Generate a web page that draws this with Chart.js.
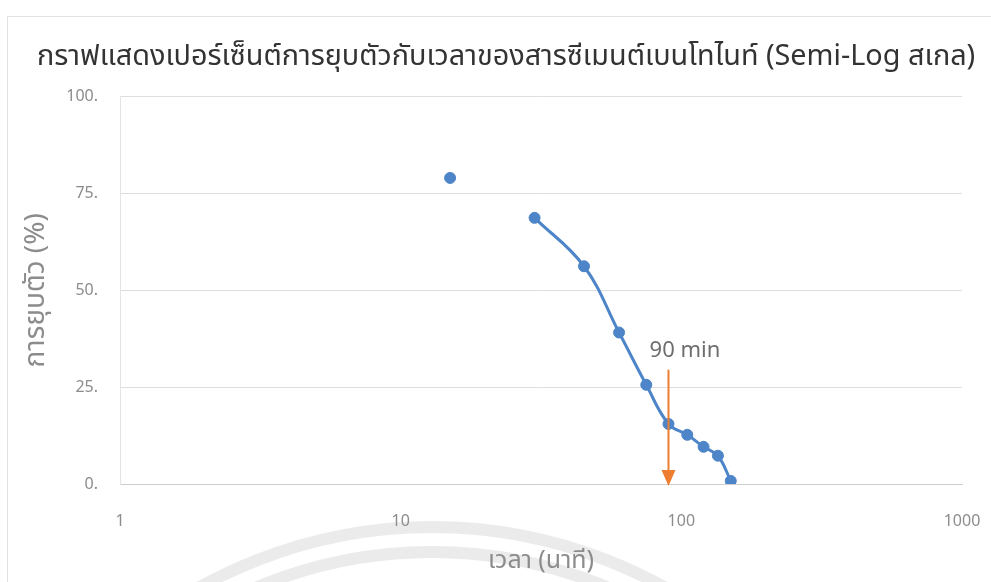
<!DOCTYPE html>
<html>
<head>
<meta charset="utf-8">
<script src="https://cdn.jsdelivr.net/npm/chart.js@4.4.1/dist/chart.umd.min.js"></script>
<style>
  html, body { margin: 0; padding: 0; background: #fff; }
  #chart { display: block; }
</style>
</head>
<body>
<canvas id="chart" width="991" height="582"></canvas>
<script>
// ข้อมูลจากกราฟ
const timeMin = [30, 45, 60, 75, 90, 105, 120, 135, 150];
const settlePct = [68.7, 56.2, 39.1, 25.6, 15.5, 12.7, 9.6, 7.3, 0.8];
const firstTime = [15];
const firstPct = [79];
const xTicks = [1, 10, 100, 1000];
const yTicks = [0, 25, 50, 75, 100];
const arrowTime = 90;
const arrowFrom = 29.5;
const arrowLabel = '90 min';
const labelTime = 103;
const labelPct = 34;

const thaiFont = '"Noto Sans Thai", "Leelawadee UI", "Noto Sans", "DejaVu Sans", sans-serif';
const tickFont = '"Noto Sans", "DejaVu Sans", sans-serif';
const blue = '#4d85c8';
const orange = '#ed7d31';

// พื้นหลัง, กรอบ และลายน้ำ
const backdrop = {
    id: 'backdrop',
    beforeDraw(chart) {
        const ctx = chart.ctx;
        ctx.save();
        ctx.fillStyle = '#fff';
        ctx.fillRect(0, 0, chart.width, chart.height);
        ctx.strokeStyle = '#e2e2e2';
        ctx.lineWidth = 1;
        ctx.beginPath();
        ctx.moveTo(7.5, chart.height);
        ctx.lineTo(7.5, 16.5);
        ctx.lineTo(chart.width, 16.5);
        ctx.stroke();
        ctx.strokeStyle = 'rgba(215,215,215,0.5)';
        ctx.lineWidth = 12;
        [478, 453].forEach(function (r) {
            ctx.beginPath();
            ctx.arc(432, 1005, r, 0, Math.PI * 2);
            ctx.stroke();
        });
        ctx.restore();
    }
};

// ลูกศร 90 นาที
const arrowPlugin = {
    id: 'arrow90',
    afterDatasetsDraw(chart) {
        const x = chart.scales.x, y = chart.scales.y;
        const ctx = chart.ctx;
        const px = x.getPixelForValue(arrowTime);
        const top = y.getPixelForValue(arrowFrom);
        const bottom = y.getPixelForValue(0) + 2;
        ctx.save();
        ctx.strokeStyle = orange;
        ctx.fillStyle = orange;
        ctx.lineWidth = 2;
        ctx.beginPath();
        ctx.moveTo(px, top);
        ctx.lineTo(px, bottom - 14);
        ctx.stroke();
        ctx.beginPath();
        ctx.moveTo(px - 7, bottom - 16);
        ctx.lineTo(px + 7, bottom - 16);
        ctx.lineTo(px, bottom);
        ctx.closePath();
        ctx.fill();
        ctx.fillStyle = '#6e6e6e';
        ctx.font = '22px ' + thaiFont;
        ctx.textAlign = 'center';
        ctx.textBaseline = 'middle';
        ctx.fillText(arrowLabel, x.getPixelForValue(labelTime), y.getPixelForValue(labelPct));
        ctx.restore();
    }
};

new Chart(document.getElementById('chart'), {
    type: 'scatter',
    data: {
        datasets: [{
            data: timeMin.map((t, i) => ({ x: t, y: settlePct[i] })),
            showLine: true,
            borderColor: blue,
            backgroundColor: blue,
            borderWidth: 3,
            tension: 0.4,
            pointRadius: 5.5,
            pointBorderWidth: 1,
            pointHoverRadius: 5.5
        }, {
            data: firstTime.map((t, i) => ({ x: t, y: firstPct[i] })),
            showLine: false,
            borderColor: blue,
            backgroundColor: blue,
            pointRadius: 5.5,
            pointBorderWidth: 1
        }]
    },
    options: {
        responsive: false,
        animation: false,
        layout: { padding: { left: 37, right: 10, top: 0, bottom: 0 } },
        plugins: {
            legend: { display: false },
            tooltip: { enabled: false },
            title: {
                display: true,
                align: 'start',
                text: 'กราฟแสดงเปอร์เซ็นต์การยุบตัวกับเวลาของสารซีเมนต์เบนโทไนท์ (Semi-Log สเกล)',
                color: '#333333',
                font: { family: thaiFont, size: 28.8, weight: 'normal', lineHeight: 1.2 },
                padding: { top: 42, bottom: 20 }
            }
        },
        scales: {
            x: {
                type: 'logarithmic',
                min: 1,
                max: 1000,
                afterBuildTicks: function (scale) {
                    scale.ticks = xTicks.map(v => ({ value: v }));
                },
                afterFit: function (scale) {
                    scale.height = 98;
                    scale.paddingRight = 29;
                },
                grid: { color: 'rgba(0,0,0,0)', drawTicks: false },
                border: { display: true, color: '#cdcdcd', width: 1 },
                ticks: {
                    color: '#8c8c8c',
                    padding: 28,
                    font: { family: tickFont, size: 16 },
                    callback: v => String(v)
                },
                title: {
                    display: true,
                    text: 'เวลา (นาที)',
                    color: '#8c8c8c',
                    font: { family: thaiFont, size: 25 },
                    padding: { top: 0 }
                }
            },
            y: {
                min: 0,
                max: 100,
                afterBuildTicks: function (scale) {
                    scale.ticks = yTicks.map(v => ({ value: v }));
                },
                afterFit: function (scale) { scale.width = 83; },
                grid: { color: '#dedede', drawTicks: false },
                border: { display: true, color: '#e4e4e4', width: 1 },
                ticks: {
                    color: '#8c8c8c',
                    padding: 22,
                    font: { family: tickFont, size: 16 },
                    callback: v => v + '.'
                },
                title: {
                    display: true,
                    text: 'การยุบตัว (%)',
                    color: '#8c8c8c',
                    font: { family: thaiFont, size: 28 },
                    padding: { top: -15 }
                }
            }
        }
    },
    plugins: [backdrop, arrowPlugin]
});
</script>
</body>
</html>
